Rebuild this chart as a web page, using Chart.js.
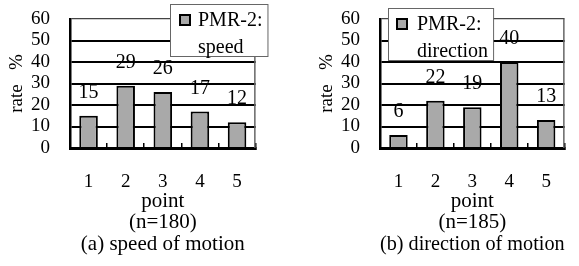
<!doctype html>
<html>
<head>
<title>PMR-2 rate by point</title>
<script src="https://cdn.jsdelivr.net/npm/chart.js@4.4.0/dist/chart.umd.min.js"></script>
<style>
  body { margin: 0; background: #fff; }
  #wrap { position: relative; width: 579px; height: 266px; overflow: hidden; }
  canvas { position: absolute; top: 0; }
</style>
</head>
<body>
<div id="wrap">
  <canvas id="speed" width="270" height="266" style="left:0"></canvas>
  <canvas id="direction" width="269" height="266" style="left:310px"></canvas>
</div>
<script>
var points = ['1', '2', '3', '4', '5'];
var speedRate = [15, 29, 26, 17, 12];
var directionRate = [6, 22, 19, 40, 13];
var rateTicks = [0, 10, 20, 30, 40, 50, 60];
var speedLegend = ['PMR-2:', 'speed'];
var directionLegend = ['PMR-2:', 'direction'];
var sampleSizes = ['(n=180)', '(n=185)'];
var captions = ['(a) speed of motion', '(b) direction of motion'];

var SERIF = '"Liberation Serif", "Times New Roman", serif';
Chart.defaults.font.family = SERIF;
Chart.defaults.color = '#000';

// value printed above each bar
var barValues = {
    id: 'barValues',
    afterDatasetsDraw: function(chart) {
        var ctx = chart.ctx;
        var data = chart.data.datasets[0].data;
        ctx.save();
        ctx.font = '20px ' + SERIF;
        ctx.fillStyle = '#000';
        ctx.textAlign = 'center';
        ctx.textBaseline = 'middle';
        chart.getDatasetMeta(0).data.forEach(function(bar, i) {
            ctx.fillText(data[i], bar.x, bar.y - 23);
        });
        ctx.restore();
    }
};

// right edge of the plot frame and the boxed legend sitting inside the plot
var frameLegend = {
    id: 'frameLegend',
    afterDraw: function(chart, args, opts) {
        var ctx = chart.ctx, a = chart.chartArea;
        ctx.save();
        ctx.strokeStyle = '#666';
        ctx.lineWidth = 1.5;
        ctx.beginPath();
        ctx.moveTo(a.right - 0.75, a.top);
        ctx.lineTo(a.right - 0.75, a.bottom);
        ctx.stroke();

        var lines = opts.lines;
        ctx.font = '20px ' + SERIF;
        var tw = Math.max.apply(null, lines.map(function(t) { return ctx.measureText(t).width; }));
        var bx = a.left + opts.dx, by = opts.top;
        var bw = opts.textX + tw + 5, bh = 52;
        ctx.fillStyle = '#fff';
        ctx.fillRect(bx, by, bw, bh);
        ctx.strokeStyle = '#666';
        ctx.lineWidth = 1;
        ctx.strokeRect(bx + 0.5, by + 0.5, bw, bh);

        var ds = chart.data.datasets[0];
        ctx.fillStyle = ds.backgroundColor;
        ctx.fillRect(bx + opts.markX, by + 11, 10, 10);
        ctx.strokeStyle = '#000';
        ctx.lineWidth = 2;
        ctx.strokeRect(bx + opts.markX, by + 11, 10, 10);

        ctx.fillStyle = '#000';
        ctx.textAlign = 'left';
        ctx.textBaseline = 'middle';
        ctx.fillText(lines[0], bx + opts.textX, by + 17);
        ctx.fillText(lines[1], bx + opts.textX, by + 44);
        ctx.restore();
    }
};

function makeChart(id, values, legendLines, n, caption, box, rightPad) {
    return new Chart(document.getElementById(id), {
        type: 'bar',
        data: {
            labels: points,
            datasets: [{
                label: legendLines.join(' '),
                data: values,
                backgroundColor: '#a9a9a9',
                borderColor: '#000',
                borderWidth: 2,
                barPercentage: 0.5,
                categoryPercentage: 1
            }]
        },
        options: {
            responsive: false,
            animation: false,
            devicePixelRatio: 1,
            layout: { padding: { top: 19, left: 0, right: rightPad, bottom: 11 } },
            plugins: {
                legend: { display: false },
                tooltip: { enabled: false },
                title: {
                    display: true, position: 'bottom', fullSize: false, text: caption, color: '#000',
                    font: { size: 21, lineHeight: 1, weight: 'normal' }, padding: { top: 2, bottom: 0 }
                },
                subtitle: {
                    display: true, position: 'bottom', fullSize: false, text: n, color: '#000',
                    font: { size: 21, lineHeight: 1 }, padding: { top: 0, bottom: -1 }
                },
                frameLegend: { lines: legendLines, dx: box.dx, top: box.top, markX: box.markX, textX: box.textX }
            },
            scales: {
                x: {
                    grid: { offset: true, drawOnChartArea: false, drawTicks: true, tickLength: -5, tickColor: '#000', lineWidth: 1.5 },
                    border: { color: '#000', width: 3 },
                    ticks: { padding: 28, font: { size: 19 } },
                    title: { display: true, text: 'point', font: { size: 21, lineHeight: 1 }, padding: { top: 0, bottom: 0 } },
                    afterFit: function(s) { s.height = 64; }
                },
                y: {
                    min: rateTicks[0],
                    max: rateTicks[rateTicks.length - 1],
                    ticks: { stepSize: rateTicks[1] - rateTicks[0], autoSkip: false, padding: 0, font: { size: 19 } },
                    grid: {
                        drawTicks: true,
                        tickLength: 20,
                        tickColor: 'rgba(0,0,0,0)',
                        color: function(c) { return c.tick && c.tick.value === 60 ? '#444' : '#000'; },
                        lineWidth: function(c) { return c.tick && c.tick.value === 60 ? 1.2 : 2; }
                    },
                    border: { color: '#000', width: 2.5 },
                    title: { display: true, text: 'rate   %', font: { size: 19 }, padding: { top: 6, bottom: 0 } },
                    afterFit: function(s) { s.width = 70; }
                }
            }
        },
        plugins: [barValues, frameLegend]
    });
}

makeChart('speed', speedRate, speedLegend, sampleSizes[0], captions[0], { dx: 100, top: 4, markX: 10, textX: 28 }, 2);
makeChart('direction', directionRate, directionLegend, sampleSizes[1], captions[1], { dx: 8, top: 8, markX: 9, textX: 29 }, 1);
</script>
</body>
</html>
